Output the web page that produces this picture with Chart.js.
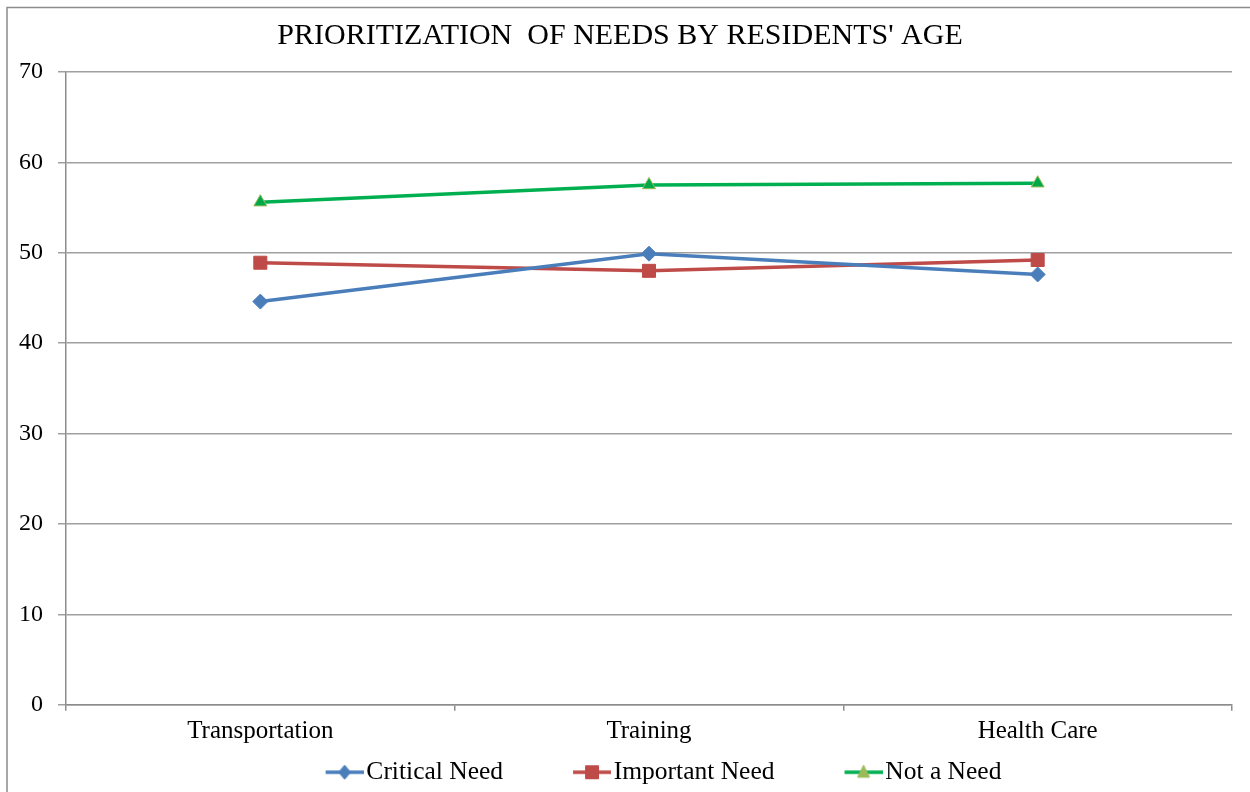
<!DOCTYPE html>
<html>
<head>
<meta charset="utf-8">
<script src="https://cdn.jsdelivr.net/npm/chart.js@4.4.0/dist/chart.umd.min.js"></script>
<style>
  body { margin: 0; background: #fff; }
  canvas { display: block; }
</style>
</head>
<body>
<canvas id="myChart1" width="1250" height="792"></canvas>
<script>
// data
let categories = ['Transportation', 'Training', 'Health Care'];
let criticalNeed = [44.6, 49.9, 47.6];
let importantNeed = [48.9, 48.0, 49.2];
let notANeed = [55.6, 57.5, 57.7];
let yTicks = [0, 10, 20, 30, 40, 50, 60, 70];

const FONT = '"Liberation Serif", "Times New Roman", serif';
const BOX = 98; // legend box width, the blank part gives the gap between items

// small picture for the legend: line + marker, drawn on the right end
function legendIcon(color, marker, fill, border){
	let c = document.createElement('canvas');
	c.width = BOX + 20;
	c.height = 24;
	let ctx = c.getContext('2d');
	let x0 = c.width - 38, xm = c.width - 19, y = 12;
	ctx.strokeStyle = color;
	ctx.lineWidth = 3.5;
	ctx.beginPath(); ctx.moveTo(x0, y); ctx.lineTo(c.width, y); ctx.stroke();
	ctx.fillStyle = fill;
	ctx.strokeStyle = border;
	ctx.lineWidth = 1;
	ctx.beginPath();
	if(marker == 'diamond'){
		ctx.moveTo(xm, y - 7); ctx.lineTo(xm + 6, y); ctx.lineTo(xm, y + 7); ctx.lineTo(xm - 6, y);
	}else if(marker == 'square'){
		ctx.rect(xm - 6.5, y - 6.5, 13, 13);
	}else{
		ctx.moveTo(xm, y - 7); ctx.lineTo(xm + 6, y + 5); ctx.lineTo(xm - 6, y + 5);
	}
	ctx.closePath();
	ctx.fill();
	ctx.stroke();
	return c;
}

const icons = [
	legendIcon('#4a7ebb', 'diamond', '#4a7ebb', '#4a7ebb'),
	legendIcon('#be4b48', 'square', '#be4b48', '#be4b48'),
	legendIcon('#00b050', 'triangle', '#9bbb59', '#9bbb59')
];

const frame = {
	id: 'frame',
	afterLayout(chart){
		// nudge the legend row to where it sits in the picture
		let lg = chart.legend;
		lg.left += 8.5; lg.right += 8.5;
		lg.top += 3; lg.bottom += 3;
	},
	beforeDraw(chart){
		let ctx = chart.ctx;
		ctx.save();
		ctx.fillStyle = '#fff';
		ctx.fillRect(0, 0, chart.width, chart.height);
		ctx.strokeStyle = '#8c8c8c';
		ctx.lineWidth = 1.5;
		ctx.strokeRect(7, 7.5, 1400, 1000);
		ctx.restore();
	}
};

const data = {
	labels: categories,
	datasets: [{
		label: 'Critical Need',
		data: criticalNeed,
		borderColor: '#4a7ebb',
		backgroundColor: '#4a7ebb',
		borderWidth: 3.5,
		pointStyle: 'rectRot',
		pointRadius: 7.5,
		pointBorderWidth: 1
	}, {
		label: 'Important Need',
		data: importantNeed,
		borderColor: '#be4b48',
		backgroundColor: '#be4b48',
		borderWidth: 3.5,
		pointStyle: 'rect',
		pointRadius: 9.2,
		pointBorderWidth: 1
	}, {
		label: 'Not a Need',
		data: notANeed,
		borderColor: '#00b050',
		backgroundColor: '#00a84a',
		pointBorderColor: '#9bbb59',
		borderWidth: 3.5,
		pointStyle: 'triangle',
		pointRadius: 7.5,
		pointBorderWidth: 1
	}]
};

const config = {
	type: 'line',
	data: data,
	plugins: [frame],
	options: {
		responsive: false,
		animation: false,
		layout: { padding: { left: 8, right: 18, top: 0, bottom: 0 } },
		plugins: {
			title: {
				display: true,
				text: "PRIORITIZATION  OF NEEDS BY RESIDENTS' AGE",
				color: '#000',
				font: { family: FONT, size: 30, weight: 'normal' },
				padding: { top: 18, bottom: 18 }
			},
			legend: {
				position: 'bottom',
				labels: {
					color: '#000',
					font: { family: FONT, size: 25.5 },
					usePointStyle: true,
					pointStyleWidth: BOX,
					boxHeight: 24,
					padding: 0,
					generateLabels: function(chart){
						return chart.data.datasets.map((ds, i) => ({
							text: ds.label,
							fontColor: '#000',
							pointStyle: icons[i],
							datasetIndex: i,
							lineWidth: 0,
							hidden: false
						}));
					}
				}
			},
			tooltip: { enabled: false }
		},
		scales: {
			x: {
				offset: true,
				grid: { offset: true, drawOnChartArea: false, drawTicks: true, tickLength: 6, color: '#8c8c8c', lineWidth: 1.5 },
				border: { color: '#8c8c8c', width: 1.5 },
				ticks: { color: '#000', font: { family: FONT, size: 25 }, padding: 6 },
				afterFit: function(scale){ scale.height = 51.8; }
			},
			y: {
				min: 0,
				max: 70,
				afterBuildTicks: function(scale){ scale.ticks = yTicks.map(v => ({ value: v })); },
				grid: { color: '#a0a0a0', lineWidth: 1.5, tickLength: 8 },
				border: { color: '#8c8c8c', width: 1.5 },
				ticks: { color: '#000', font: { family: FONT, size: 24 }, padding: 15 },
				afterFit: function(scale){ scale.width = 58; }
			}
		}
	}
};

let myChart1 = new Chart(document.getElementById('myChart1'), config);
</script>
</body>
</html>
